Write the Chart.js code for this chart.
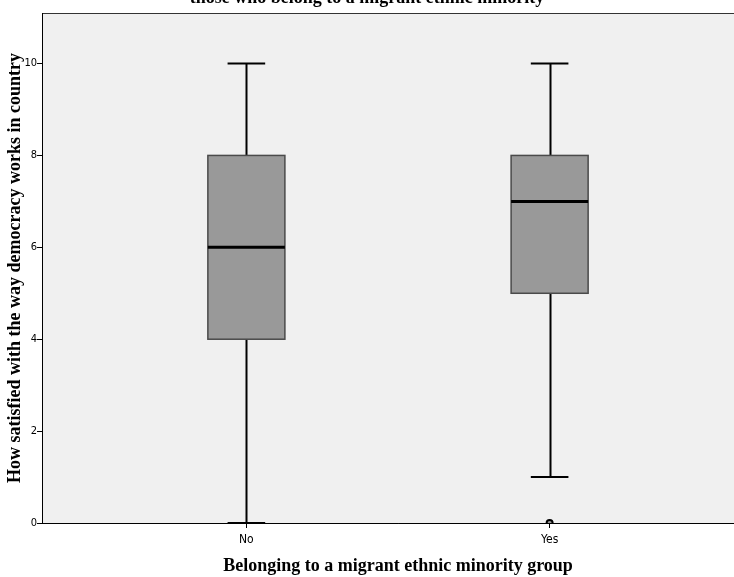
<!DOCTYPE html>
<html>
<head>
<meta charset="utf-8">
<script src="https://cdn.jsdelivr.net/npm/chart.js@4.4.0/dist/chart.umd.min.js"></script>
<style>
  html, body { margin: 0; padding: 0; overflow: hidden; background: #fff; }
</style>
</head>
<body>
<canvas id="chartBox" width="760" height="577"></canvas>
<script>
// Dados do boxplot
const grupos = ["No", "Yes"];
const minimos = [0, 1];
const quartil1 = [4, 5];
const medianas = [6, 7];
const quartil3 = [8, 8];
const maximos = [10, 10];
const outlierGrupo = ["Yes"];
const outlierValor = [0];
const yTicks = [0, 2, 4, 6, 8, 10];

const serif = '"Liberation Serif", "Times New Roman", serif';
const narrow = '"Liberation Sans Narrow", "DejaVu Sans Condensed", sans-serif';

// Fundo cinza da área do gráfico + borda superior
const fundoPlugin = {
  id: "fundo",
  beforeDraw(chart) {
    const { ctx, chartArea: a } = chart;
    ctx.save();
    ctx.fillStyle = "#f0f0f0";
    ctx.fillRect(a.left, a.top, a.right - a.left, a.bottom - a.top);
    ctx.strokeStyle = "#333";
    ctx.lineWidth = 1;
    ctx.strokeRect(a.left + 0.5, a.top + 0.5, a.right - a.left, a.bottom - a.top);
    ctx.restore();
  },
};

// Desenha caixas, bigodes e medianas usando as escalas do Chart.js
const boxPlugin = {
  id: "boxplot",
  beforeDatasetsDraw(chart) {
    const { ctx, scales: { x, y } } = chart;
    ctx.save();
    grupos.forEach((g, i) => {
      const c = i + 1;
      const xm = Math.round(x.getPixelForValue(c)) + 0.5;
      const bL = x.getPixelForValue(c - 0.127);
      const bR = x.getPixelForValue(c + 0.127);
      const cL = x.getPixelForValue(c - 0.062);
      const cR = x.getPixelForValue(c + 0.062);
      const yMin = y.getPixelForValue(minimos[i]);
      const yQ1 = y.getPixelForValue(quartil1[i]);
      const yMed = y.getPixelForValue(medianas[i]);
      const yQ3 = y.getPixelForValue(quartil3[i]);
      const yMax = y.getPixelForValue(maximos[i]);

      // bigodes
      ctx.strokeStyle = "#000";
      ctx.lineWidth = 2;
      ctx.beginPath();
      ctx.moveTo(xm, yMin); ctx.lineTo(xm, yQ1);
      ctx.moveTo(xm, yQ3); ctx.lineTo(xm, yMax);
      ctx.moveTo(cL, yMin); ctx.lineTo(cR, yMin);
      ctx.moveTo(cL, yMax); ctx.lineTo(cR, yMax);
      ctx.stroke();

      // caixa
      ctx.fillStyle = "#999999";
      ctx.fillRect(bL, yQ3, bR - bL, yQ1 - yQ3);
      ctx.strokeStyle = "#4a4a4a";
      ctx.lineWidth = 1.5;
      ctx.strokeRect(bL, yQ3, bR - bL, yQ1 - yQ3);

      // mediana
      ctx.strokeStyle = "#000";
      ctx.lineWidth = 3;
      ctx.beginPath();
      ctx.moveTo(bL, yMed); ctx.lineTo(bR, yMed);
      ctx.stroke();
    });
    ctx.restore();
  },
};

// Título cortado no topo da imagem
const tituloPlugin = {
  id: "tituloTopo",
  afterDraw(chart) {
    const { ctx } = chart;
    ctx.save();
    ctx.font = "bold 18px " + serif;
    ctx.fillStyle = "#000";
    ctx.textAlign = "center";
    ctx.textBaseline = "alphabetic";
    ctx.fillText("those who belong to a migrant ethnic minority", 367, 3);
    ctx.restore();
  },
};

new Chart(document.getElementById("chartBox"), {
  type: "scatter",
  data: {
    datasets: [
      {
        label: "Outliers",
        data: outlierGrupo.map((g, i) => ({ x: grupos.indexOf(g) + 1, y: outlierValor[i] })),
        pointStyle: "circle",
        pointRadius: 3,
        borderColor: "#000",
        borderWidth: 2,
        backgroundColor: "#999999",
      },
    ],
  },
  options: {
    responsive: false,
    animation: false,
    layout: { padding: { top: 13, right: 4, left: 0, bottom: 0 } },
    plugins: {
      legend: { display: false },
      tooltip: { enabled: false },
    },
    scales: {
      x: {
        type: "linear",
        min: 0.326,
        max: 2.674,
        afterBuildTicks: (s) => { s.ticks = [{ value: 1 }, { value: 2 }]; },
        afterFit: (s) => { s.height = 54; },
        ticks: {
          autoSkip: false,
          callback: (v) => grupos[v - 1],
          color: "#000",
          padding: 5,
          font: { family: narrow, size: 12 },
        },
        grid: { drawOnChartArea: false, drawTicks: true, tickLength: 5, color: "#000" },
        border: { display: true, color: "#000", width: 1 },
        title: {
          display: true,
          text: "Belonging to a migrant ethnic minority group",
          color: "#000",
          font: { family: serif, size: 18, weight: "bold" },
          padding: { top: 0, bottom: 0 },
        },
      },
      y: {
        min: 0,
        max: 11.1,
        afterBuildTicks: (s) => { s.ticks = yTicks.map((v) => ({ value: v })); },
        afterFit: (s) => { s.width = 42; },
        ticks: {
          color: "#000",
          padding: 0,
          font: { family: narrow, size: 11 },
        },
        grid: { drawOnChartArea: false, drawTicks: true, tickLength: 5, color: "#000" },
        border: { display: true, color: "#000", width: 1 },
        title: {
          display: true,
          text: "How satisfied with the way democracy works in country",
          color: "#000",
          font: { family: serif, size: 18, weight: "bold" },
          padding: { top: 5, bottom: 0 },
        },
      },
    },
  },
  plugins: [fundoPlugin, boxPlugin, tituloPlugin],
});
</script>
</body>
</html>
